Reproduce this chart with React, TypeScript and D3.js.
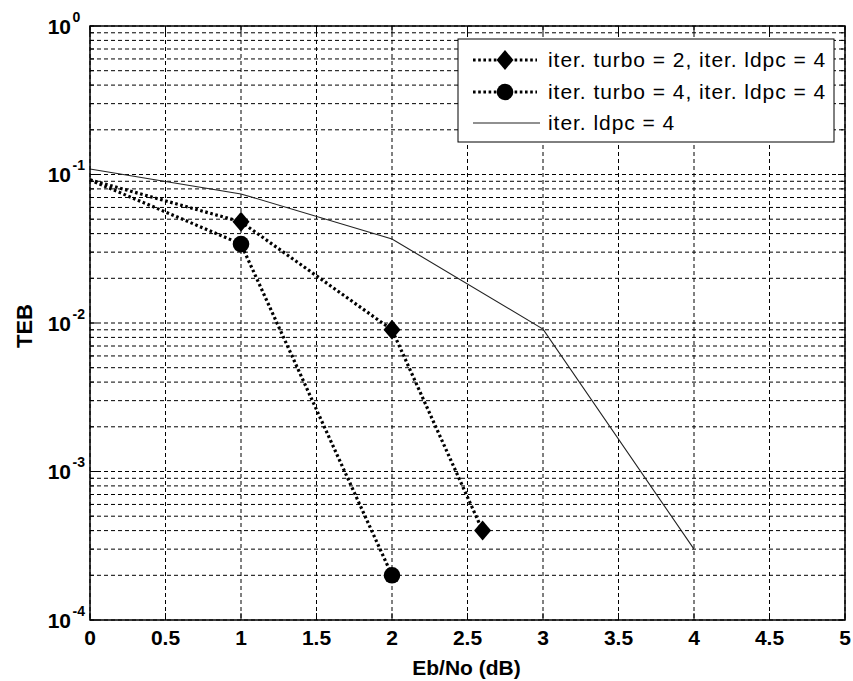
import React from "react";
import * as d3 from "d3";

// Eb/No values (dB) and bit error rates (TEB) for each configuration
const ebnoTurbo2 = [0, 1, 2, 2.6];
const tebTurbo2 = [0.092, 0.048, 0.009, 0.0004];

const ebnoTurbo4 = [0, 1, 2];
const tebTurbo4 = [0.092, 0.034, 0.0002];

const ebnoLdpc = [0, 1, 2, 3, 4];
const tebLdpc = [0.109, 0.074, 0.0368, 0.0091, 0.0003];

const xTicks = [0, 0.5, 1, 1.5, 2, 2.5, 3, 3.5, 4, 4.5, 5];
const xTickLabels = ["0", "0.5", "1", "1.5", "2", "2.5", "3", "3.5", "4", "4.5", "5"];
const yDecades = [-4, -3, -2, -1, 0];

const legendLabels = [
  "iter. turbo = 2, iter. ldpc = 4",
  "iter. turbo = 4, iter. ldpc = 4",
  "iter. ldpc = 4",
];

const W = 853;
const H = 681;
const left = 90, right = 845, top = 26, bottom = 620;
const FONT = "'Liberation Sans', Arial, Helvetica, sans-serif";

export default function App() {
  const x = d3.scaleLinear().domain([0, 5]).range([left, right]);
  const y = d3.scaleLog().domain([1e-4, 1]).range([bottom, top]);

  const line = d3
    .line<[number, number]>()
    .x((d) => x(d[0]))
    .y((d) => y(d[1]));

  const zip = (a: number[], b: number[]) => a.map((v, i) => [v, b[i]] as [number, number]);
  const s1 = zip(ebnoTurbo2, tebTurbo2);
  const s2 = zip(ebnoTurbo4, tebTurbo4);
  const s3 = zip(ebnoLdpc, tebLdpc);

  // horizontal grid at every log tick (1..9 per decade)
  const yGrid: number[] = [];
  for (let e = -4; e < 0; e++) {
    for (let m = 1; m <= 9; m++) yGrid.push(m * Math.pow(10, e));
  }
  yGrid.push(1);

  const diamond = (cx: number, cy: number, r: number) =>
    `M${cx},${cy - r}L${cx + r * 0.85},${cy}L${cx},${cy + r}L${cx - r * 0.85},${cy}Z`;

  const dotted = { stroke: "#000", strokeWidth: 3.2, strokeDasharray: "2.6,2.6", fill: "none" };

  const lgX = 458, lgY = 39, lgW = 376, lgH = 103;
  const rowY = [60, 92, 123];

  return (
    <svg
      width={W}
      height={H}
      style={{ position: "absolute", left: 0, top: 0, background: "#fff" }}
      fontFamily={FONT}
    >
      <rect x={0} y={0} width={W} height={H} fill="#fff" />
      {/* grid */}
      <g stroke="#000" strokeWidth={1} strokeDasharray="4,3" fill="none">
        {yGrid.map((v, i) => (
          <line key={"gy" + i} x1={left} x2={right} y1={y(v)} y2={y(v)} />
        ))}
        {xTicks.map((v, i) => (
          <line key={"gx" + i} x1={x(v)} x2={x(v)} y1={top} y2={bottom} />
        ))}
      </g>
      {/* inner ticks */}
      <g stroke="#000" strokeWidth={1}>
        {xTicks.map((v, i) => (
          <g key={"tx" + i}>
            <line x1={x(v)} x2={x(v)} y1={bottom} y2={bottom - 7} />
            <line x1={x(v)} x2={x(v)} y1={top} y2={top + 7} />
          </g>
        ))}
        {yGrid.map((v, i) => {
          const major = Math.abs(Math.log10(v) - Math.round(Math.log10(v))) < 1e-9;
          const len = major ? 7 : 4;
          return (
            <g key={"ty" + i}>
              <line x1={left} x2={left + len} y1={y(v)} y2={y(v)} />
              <line x1={right} x2={right - len} y1={y(v)} y2={y(v)} />
            </g>
          );
        })}
      </g>
      {/* series */}
      <path d={line(s3) || ""} stroke="#222" strokeWidth={1.1} fill="none" />
      <path d={line(s1) || ""} {...dotted} />
      <path d={line(s2) || ""} {...dotted} />
      {s1.slice(1).map((d, i) => (
        <path key={"d" + i} d={diamond(x(d[0]), y(d[1]), 10)} fill="#000" />
      ))}
      {s2.slice(1).map((d, i) => (
        <circle key={"c" + i} cx={x(d[0])} cy={y(d[1])} r={8.3} fill="#000" />
      ))}
      {/* axes box */}
      <rect x={left} y={top} width={right - left} height={bottom - top} fill="none" stroke="#000" strokeWidth={1.5} />
      {/* x tick labels */}
      <g fontWeight="bold" fontSize={21} textAnchor="middle" fill="#000">
        {xTicks.map((v, i) => (
          <text key={"xl" + i} x={x(v)} y={645}>
            {xTickLabels[i]}
          </text>
        ))}
      </g>
      {/* y tick labels */}
      <g fontWeight="bold" fill="#000">
        {yDecades.map((e) => (
          <g key={"yl" + e}>
            <text x={71} y={y(Math.pow(10, e)) + 7.5} fontSize={21} textAnchor="end">
              10
            </text>
            <text x={72.5} y={y(Math.pow(10, e)) - 4.5} fontSize={14} textAnchor="start">
              {String(e)}
            </text>
          </g>
        ))}
      </g>
      {/* axis labels */}
      <text x={(left + right) / 2 - 1} y={675} fontWeight="bold" fontSize={21} textAnchor="middle">
        Eb/No (dB)
      </text>
      <text
        transform={`translate(32,326) rotate(-90)`}
        fontWeight="bold"
        fontSize={22}
        textAnchor="middle"
      >
        TEB
      </text>
      {/* legend */}
      <rect x={lgX} y={lgY} width={lgW} height={lgH} fill="#fff" stroke="#000" strokeWidth={1} />
      <line x1={473} x2={537} y1={rowY[0]} y2={rowY[0]} {...dotted} />
      <path d={diamond(505, rowY[0], 10)} fill="#000" />
      <line x1={473} x2={537} y1={rowY[1]} y2={rowY[1]} {...dotted} />
      <circle cx={505} cy={rowY[1]} r={8.3} fill="#000" />
      <line x1={473} x2={540} y1={rowY[2]} y2={rowY[2]} stroke="#222" strokeWidth={1.1} />
      <g fontSize={21} fill="#000" letterSpacing={0.95}>
        {legendLabels.map((t, i) => (
          <text key={"lg" + i} x={548} y={rowY[i] + 7}>
            {t}
          </text>
        ))}
      </g>
    </svg>
  );
}
